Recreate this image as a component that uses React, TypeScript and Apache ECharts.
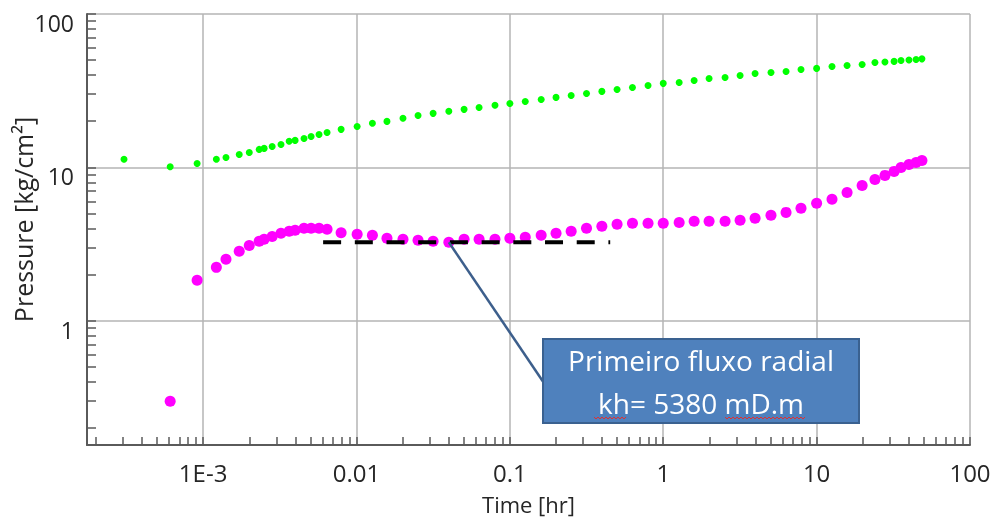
import React, { useEffect, useRef } from "react";
import * as echarts from "echarts";

// Shared time stamps (hr) of both curves
const timeHr = [
  6.1e-4, 9.14e-4, 1.22e-3, 1.41e-3, 1.72e-3, 2.0e-3, 2.32e-3, 2.5e-3, 2.82e-3, 3.22e-3,
  3.64e-3, 3.98e-3, 4.55e-3, 5.06e-3, 5.7e-3, 6.43e-3, 7.94e-3, 0.0101, 0.0127, 0.0158,
  0.0201, 0.0252, 0.0316, 0.04, 0.0503, 0.063, 0.08, 0.1, 0.126, 0.16,
  0.2, 0.251, 0.316, 0.398, 0.5, 0.63, 0.796, 1.0, 1.27, 1.59,
  1.99, 2.53, 3.17, 3.97, 5.04, 6.32, 7.91, 10.0, 12.6, 15.8,
  19.8, 24.0, 27.9, 32.0, 35.5, 40.0, 44.5, 48.6,
];

// Pressure change (green) – has one extra early point
const pressureEarlyTime = [3.05e-4];
const pressureEarlyValue = [11.3];
const pressureValues = [
  10.1, 10.6, 11.3, 11.6, 12.15, 12.5, 13.1, 13.3, 13.7, 14.1,
  14.8, 15.0, 15.45, 15.9, 16.4, 16.9, 17.7, 18.5, 19.4, 19.95,
  20.9, 21.8, 22.5, 23.2, 23.9, 24.6, 25.4, 26.1, 26.9, 27.7,
  28.6, 29.4, 30.3, 31.3, 32.2, 33.2, 34.2, 35.3, 35.8, 36.9,
  38.0, 38.6, 39.7, 40.9, 41.6, 42.2, 43.5, 44.2, 45.5, 46.2,
  46.9, 48.3, 48.7, 49.1, 49.8, 50.2, 50.5, 51.0,
];

// Pressure derivative (magenta)
const derivativeValues = [
  0.299, 1.84, 2.23, 2.52, 2.84, 3.1, 3.3, 3.4, 3.55, 3.72,
  3.83, 3.89, 4.01, 4.01, 4.01, 3.95, 3.75, 3.66, 3.61, 3.45,
  3.4, 3.35, 3.3, 3.25, 3.4, 3.4, 3.4, 3.45, 3.5, 3.61,
  3.72, 3.83, 4.01, 4.13, 4.26, 4.32, 4.32, 4.32, 4.38, 4.45,
  4.45, 4.45, 4.52, 4.66, 4.87, 5.09, 5.41, 5.83, 6.19, 6.87,
  7.63, 8.35, 8.87, 9.42, 10.0, 10.46, 10.78, 11.1,
];

// Radial flow stabilization line
const radialLineTime = [0.00606, 0.451];
const radialLineValue = [3.25, 3.25];

// Annotation anchor
const anchorTime = 0.04;
const anchorValue = 3.25;
const annotationLines = ["Primeiro fluxo radial", "kh= 5380 mD.m"];

// Axes
const xMin = 1.75e-4;
const xMax = 100;
const yMin = 0.155;
const yMax = 100;
const xTickValues = [0.001, 0.01, 0.1, 1, 10, 100];
const xTickLabels = ["1E-3", "0.01", "0.1", "1", "10", "100"];
const yTickValues = [1, 10, 100];
const yTickLabels = ["1", "10", "100"];
const xDecades = [1e-4, 1e-3, 1e-2, 1e-1, 1, 10];
const yDecades = [0.1, 1, 10];
const minorMultipliers = [1, 2, 3, 4, 5, 6, 7, 8, 9];

const FONT = "'Open Sans', 'Noto Sans', sans-serif";

function minorTicks(decades: number[], lo: number, hi: number) {
  const out: number[] = [];
  decades.forEach((d) => minorMultipliers.forEach((m) => {
    const v = d * m;
    if (v >= lo && v <= hi) out.push(v);
  }));
  out.push(hi);
  return out;
}

function labelFor(values: number[], labels: string[]) {
  return (v: number) => {
    const i = values.findIndex((t) => Math.abs(Math.log10(t) - Math.log10(v)) < 1e-6);
    return i >= 0 ? labels[i] : "";
  };
}

export default function App() {
  const ref = useRef<HTMLDivElement>(null);
  useEffect(() => {
    const chart = echarts.init(ref.current!, null, { renderer: "svg" });
    const axisColor = "#5a5a5a";
    const gridColor = "#b4b4b4";
    const green = [[pressureEarlyTime[0], pressureEarlyValue[0]], ...timeHr.map((t, i) => [t, pressureValues[i]])];
    const magenta = timeHr.map((t, i) => [t, derivativeValues[i]]);
    chart.setOption({
      animation: false,
      grid: { left: 87, right: 23, top: 14, bottom: 74, containLabel: false, outerBoundsMode: "none" },
      xAxis: [
        {
          type: "log", logBase: 10, min: xMin, max: xMax, position: "bottom",
          name: "Time [hr]", nameLocation: "middle", nameGap: 48, nameMoveOverlap: false,
          nameTextStyle: { fontFamily: FONT, fontSize: 22, color: "#262626" },
          axisLine: { show: true, lineStyle: { color: axisColor, width: 2 } },
          axisTick: { show: false },
          axisLabel: { formatter: labelFor(xTickValues, xTickLabels), fontFamily: FONT, fontSize: 24, color: "#262626", margin: 15, showMinLabel: false },
          splitLine: { show: true, lineStyle: { color: gridColor, width: 1.5 } },
        },
        {
          type: "log", logBase: 10, min: xMin, max: xMax, position: "bottom",
          axisLine: { show: false },
          axisLabel: { show: false },
          splitLine: { show: false },
          axisTick: { show: true, inside: true, length: 8, customValues: minorTicks(xDecades, xMin, xMax), lineStyle: { color: axisColor, width: 1.5 } },
        },
      ],
      yAxis: [
        {
          type: "log", logBase: 10, min: yMin, max: yMax, position: "left",
          name: "Pressure [kg/cm²]", nameLocation: "middle", nameGap: 52, nameMoveOverlap: false,
          nameTextStyle: { fontFamily: FONT, fontSize: 25, color: "#262626", padding: [0, 0, 0, 20] },
          axisLine: { show: true, lineStyle: { color: axisColor, width: 2 } },
          axisTick: { show: false },
          axisLabel: { formatter: labelFor(yTickValues, yTickLabels), fontFamily: FONT, fontSize: 23, color: "#262626", margin: 13, verticalAlign: "top", lineHeight: 18, showMinLabel: false },
          splitLine: { show: true, lineStyle: { color: gridColor, width: 1.5 } },
        },
        {
          type: "log", logBase: 10, min: yMin, max: yMax, position: "left",
          axisLine: { show: false },
          axisLabel: { show: false },
          splitLine: { show: false },
          axisTick: { show: true, inside: true, length: 9, customValues: minorTicks(yDecades, yMin, yMax), lineStyle: { color: axisColor, width: 1.5 } },
        },
      ],
      series: [
        {
          type: "scatter", xAxisIndex: 0, yAxisIndex: 0, data: green,
          symbol: "circle", symbolSize: 7, itemStyle: { color: "#00ff00", opacity: 1 }, silent: true,
        },
        {
          type: "scatter", xAxisIndex: 0, yAxisIndex: 0, data: magenta,
          symbol: "circle", symbolSize: 11, itemStyle: { color: "#ff00ff", opacity: 1 }, silent: true,
        },
        {
          type: "line", xAxisIndex: 0, yAxisIndex: 0,
          data: radialLineTime.map((t, i) => [t, radialLineValue[i]]),
          symbol: "none", silent: true,
          lineStyle: { color: "#000000", width: 4, type: [18, 13.7], cap: "butt" },
          z: 3,
        },
      ],
    });

    const [ax, ay] = chart.convertToPixel({ seriesIndex: 1 }, [anchorTime, anchorValue]) as number[];
    const boxX = 543, boxY = 339, boxW = 316, boxH = 84;
    const zig = (x0: number, x1: number, y: number) => {
      const pts: number[][] = [];
      let up = true;
      for (let x = x0; x <= x1; x += 2) { pts.push([x, y + (up ? -1 : 1)]); up = !up; }
      return pts;
    };
    chart.setOption({
      graphic: [
        { type: "line", z: 100, shape: { x1: ax, y1: ay, x2: boxX + 3, y2: boxY + 47 }, style: { stroke: "#3d5f8c", lineWidth: 2.5 } },
        { type: "rect", z: 101, shape: { x: boxX, y: boxY, width: boxW, height: boxH }, style: { fill: "#4f81bd", stroke: "#3a6190", lineWidth: 2 } },
        { type: "text", z: 102, x: boxX + boxW / 2, y: boxY + 21, style: { text: annotationLines[0], fill: "#ffffff", font: `28px ${FONT}`, align: "center", verticalAlign: "middle" } },
        { type: "text", z: 102, x: boxX + boxW / 2, y: boxY + 64, style: { text: annotationLines[1], fill: "#ffffff", font: `28px ${FONT}`, align: "center", verticalAlign: "middle" } },
        { type: "polyline", z: 103, shape: { points: zig(594, 627, 418) }, style: { stroke: "#e03030", lineWidth: 1, fill: null } },
        { type: "polyline", z: 103, shape: { points: zig(725, 805, 418) }, style: { stroke: "#e03030", lineWidth: 1, fill: null } },
      ],
    });
    return () => chart.dispose();
  }, []);
  return <div ref={ref} style={{ position: "fixed", left: 0, top: 0, width: 993, height: 519 }} />;
}
